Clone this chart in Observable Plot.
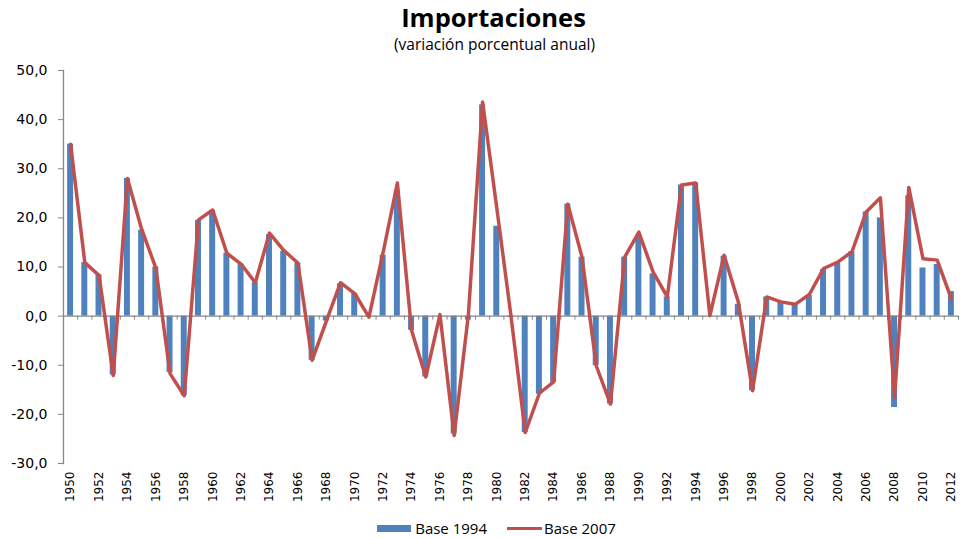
<!DOCTYPE html>
<html>
<head>
<meta charset="utf-8">
<script src="https://cdn.jsdelivr.net/npm/d3@7"></script>
<script src="https://cdn.jsdelivr.net/npm/@observablehq/plot@0.6"></script>
<style>
  body { margin: 0; background: #fff; width: 963px; }
  #title { font: 700 25.5px "Open Sans", sans-serif; text-align: center; padding-left: 24px; height: 34px; line-height: 34px; color: #000; }
  #subtitle { font: 15.5px "Open Sans", sans-serif; text-align: center; padding-left: 26px; height: 21px; line-height: 21px; color: #000; }
  #legend { display: flex; justify-content: center; align-items: center; height: 20px; padding-left: 30px; font: 15px "Open Sans", sans-serif; color: #000; }
  .sw-bar { width: 34px; height: 7px; background: #4F81BD; margin-right: 4px; }
  .sw-line { width: 35px; height: 3px; background: #C0504D; margin-left: 20px; margin-right: 2px; }
</style>
</head>
<body>
<div id="title">Importaciones</div>
<div id="subtitle">(variación porcentual anual)</div>
<div id="chart"></div>
<div id="legend"><span class="sw-bar"></span><span>Base 1994</span><span class="sw-line"></span><span>Base 2007</span></div>
<script>
const years = [1950,1951,1952,1953,1954,1955,1956,1957,1958,1959,
  1960,1961,1962,1963,1964,1965,1966,1967,1968,1969,
  1970,1971,1972,1973,1974,1975,1976,1977,1978,1979,
  1980,1981,1982,1983,1984,1985,1986,1987,1988,1989,
  1990,1991,1992,1993,1994,1995,1996,1997,1998,1999,
  2000,2001,2002,2003,2004,2005,2006,2007,2008,2009,
  2010,2011,2012];
const base1994 = [35.0,10.9,8.4,-12.0,28.0,17.5,10.0,-11.5,-16.2,19.5,
  21.5,12.8,10.6,6.8,16.6,13.2,10.8,-9.0,-1.0,6.6,
  4.6,-0.2,12.4,25.5,-2.9,-12.4,0.0,-24.0,-0.8,43.0,
  18.3,-0.3,-23.7,-15.9,-13.5,22.8,12.0,-10.1,-17.9,12.0,
  16.0,8.6,3.9,26.7,27.1,0.0,12.2,2.4,-15.2,3.9,
  2.9,2.4,4.2,9.5,10.8,13.1,21.2,20.0,-18.6,24.5,
  9.8,10.5,5.0];
const base2007 = [35.0,10.9,8.3,-12.1,28.0,17.7,9.8,-11.7,-16.2,19.6,
  21.6,12.8,10.6,6.8,16.9,13.4,10.8,-9.0,-1.0,6.8,
  4.6,-0.2,13.0,27.1,-2.9,-12.4,0.3,-24.3,0.3,43.6,
  22.0,0.0,-23.7,-15.7,-13.4,22.8,12.0,-10.1,-17.9,12.0,
  17.1,9.0,3.9,26.7,27.1,0.1,12.4,2.9,-15.2,3.9,
  2.9,2.4,4.4,9.7,11.0,13.1,21.2,24.1,-16.5,26.2,
  11.7,11.4,3.5];
const yTicks = [-30,-20,-10,0,10,20,30,40,50];
const xLabelYears = years.filter((y, i) => i % 2 === 0);

const data = years.map((year, i) => ({year, b1994: base1994[i], b2007: base2007[i]}));
const boundaries = years.map(y => y + 0.5).concat([years[0] - 0.5]);
const fmt = d => d.toFixed(1).replace(".", ",");

const chart = Plot.plot({
  width: 963,
  height: 463,
  marginLeft: 63,
  marginRight: 5,
  marginTop: 15,
  marginBottom: 55,
  style: {fontFamily: "DejaVu Sans, sans-serif", color: "#000", background: "#fff"},
  x: {type: "linear", domain: [years[0] - 0.5, years[years.length - 1] + 0.5]},
  y: {domain: [-30, 50]},
  marks: [
    Plot.rectY(data, {x1: d => d.year - 0.21, x2: d => d.year + 0.21, y: "b1994", fill: "#4F81BD"}),
    Plot.ruleY([0], {stroke: "#868686", strokeWidth: 1.3}),
    Plot.ruleX(boundaries, {x: d => d, y1: 0, y2: 0, insetBottom: -4, stroke: "#868686", strokeWidth: 1}),
    Plot.lineY(data, {x: "year", y: "b2007", stroke: "#C0504D", strokeWidth: 3.5, strokeLinejoin: "round"}),
    Plot.frame({anchor: "left", stroke: "#868686", strokeWidth: 1.3}),
    Plot.axisY({ticks: yTicks, tickFormat: fmt, tickSize: 5, tickPadding: 11, fontSize: 14, stroke: "#868686", label: null}),
    Plot.axisX({ticks: xLabelYears, tickFormat: d => String(d), tickSize: 0, tickPadding: 8, tickRotate: -90, fontSize: 12, label: null, anchor: "bottom"})
  ]
});
document.getElementById("chart").appendChild(chart);
</script>
</body>
</html>
